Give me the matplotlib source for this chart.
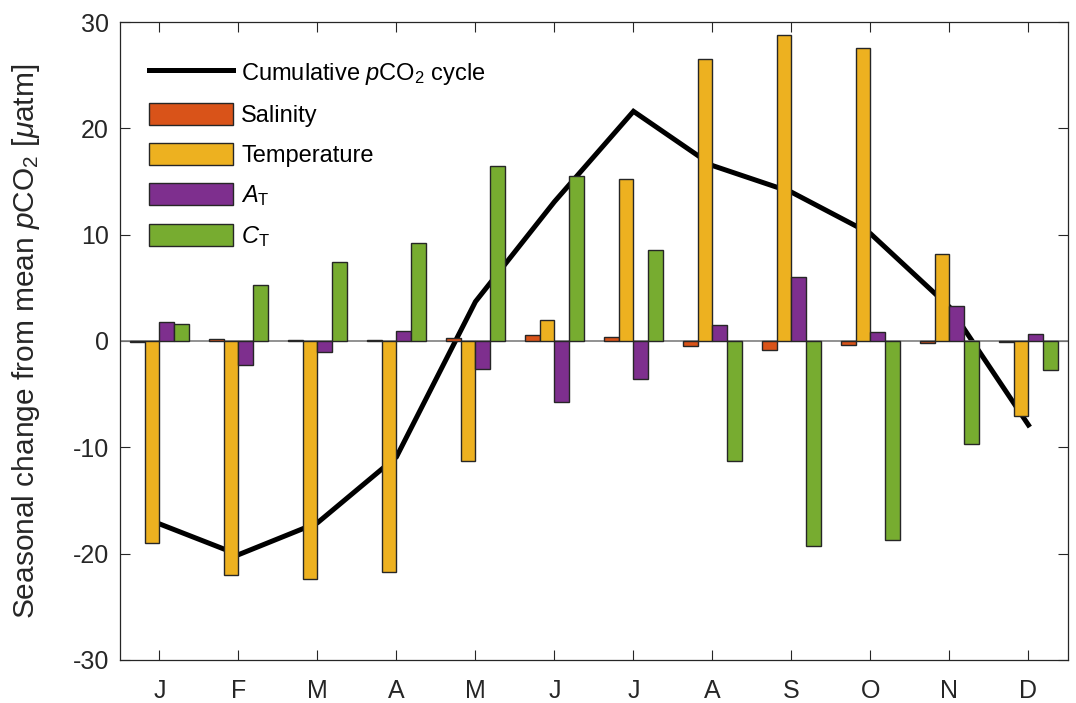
import matplotlib
matplotlib.use("Agg")
import matplotlib.pyplot as plt
import numpy as np

plt.rcParams['font.family'] = ['Liberation Sans', 'DejaVu Sans']
plt.rcParams['mathtext.fontset'] = 'custom'
plt.rcParams['mathtext.rm'] = 'Liberation Sans'
plt.rcParams['mathtext.it'] = 'Liberation Sans:italic'
plt.rcParams['mathtext.bf'] = 'Liberation Sans:bold'
plt.rcParams['axes.unicode_minus'] = False

months = ['J', 'F', 'M', 'A', 'M', 'J', 'J', 'A', 'S', 'O', 'N', 'D']
salinity = [-0.1, 0.2, 0.1, 0.05, 0.3, 0.6, 0.35, -0.45, -0.85, -0.35, -0.15, -0.05]
temperature = [-19.0, -22.0, -22.4, -21.7, -11.3, 2.0, 15.2, 26.5, 28.8, 27.6, 8.2, -7.05]
alkalinity = [1.75, -2.3, -1.0, 0.9, -2.6, -5.7, -3.6, 1.5, 6.0, 0.8, 3.3, 0.65]
dic = [1.6, 5.3, 7.4, 9.2, 16.5, 15.5, 8.6, -11.3, -19.3, -18.7, -9.7, -2.7]
cumulative = [-17.2, -20.1, -17.1, -10.9, 3.7, 13.1, 21.6, 16.5, 14.0, 10.1, 3.2, -7.9]

series = [salinity, temperature, alkalinity, dic]
labels = ['Salinity', 'Temperature', r'$A_\mathrm{T}$', r'$C_\mathrm{T}$']
colors = ['#D95319', '#EDB120', '#7E2F8E', '#77AC30']

fig = plt.figure(figsize=(10.76, 7.03), dpi=100)
ax = fig.add_axes([0.1115, 0.0612, 0.881, 0.9075])

x = np.arange(1, 13)
w = 0.185
offs = [-1.5, -0.5, 0.5, 1.5]

line, = ax.plot(x, cumulative, color='black', lw=3.6, zorder=2,
                label=r'Cumulative $p$CO$_2$ cycle', solid_joinstyle='miter')
handles = [line]
for s, lab, c, o in zip(series, labels, colors, offs):
    b = ax.bar(x + o * w, s, width=w, color=c, edgecolor='#262626',
               linewidth=1.0, label=lab, zorder=3)
    handles.append(b)

ax.axhline(0, color='#7f7f7f', lw=1.2, zorder=2.5)

ax.set_xlim(0.5, 12.5)
ax.set_ylim(-30, 30)
ax.set_xticks(x)
ax.set_xticklabels(months)
ax.set_yticks([-30, -20, -10, 0, 10, 20, 30])
ax.tick_params(direction='in', length=7, width=0.8, top=True, right=True,
               labelsize=18, colors='#262626')
ax.tick_params(axis='x', pad=14)
ax.tick_params(axis='y', pad=8)
for sp in ax.spines.values():
    sp.set_color('#262626')
    sp.set_linewidth(0.9)

ax.set_ylabel(r'Seasonal change from mean $p$CO$_2$ [$\mu$atm]', fontsize=21.5,
              color='#262626')
ax.yaxis.set_label_coords(-0.082, 0.5)

leg = ax.legend(handles=handles, loc='upper left', frameon=False, fontsize=17,
                handlelength=3.55, handleheight=1.06, handletextpad=0.35,
                labelspacing=0.68, borderpad=0.4, borderaxespad=0.0,
                bbox_to_anchor=(0.0207, 0.954))

fig.savefig('out.png', dpi=100)
